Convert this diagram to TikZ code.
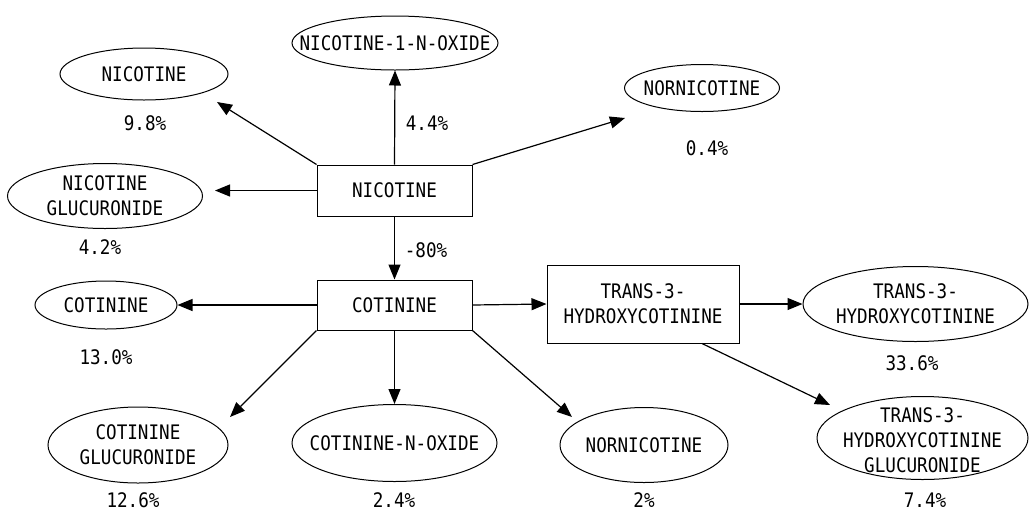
\documentclass[tikz,border=0pt]{standalone}
\usepackage{fontspec}
\setmainfont[FakeStretch=0.88]{DejaVu Sans Mono}
\usetikzlibrary{arrows.meta,shapes.geometric}
\begin{document}
\begin{tikzpicture}[x=1pt,y=-1pt,
  every node/.style={font=\fontsize{20}{25}\selectfont, align=center, inner sep=0pt},
  box/.style={draw, line width=1pt},
  ell/.style={draw, ellipse, line width=1pt},
  arr/.style={-{Triangle[length=15pt,width=12pt]}, line width=1.2pt}]
\useasboundingbox (0,0) rectangle (1030,515);
% boxes
\node[box, minimum width=155pt, minimum height=51pt] (nic) at (394.5,190.5) {NICOTINE};
\node[box, minimum width=155pt, minimum height=50pt] (cot) at (394.5,305) {COTININE};
\node[box, minimum width=192pt, minimum height=78pt] (trans) at (643,304) {TRANS-3-\\HYDROXYCOTININE};
% ellipses
\node[ell, minimum width=206pt, minimum height=54pt] (en1no) at (395,43) {};
\node (t_en1no) at (en1no) {NICOTINE-1-N-OXIDE};
\node[ell, minimum width=168pt, minimum height=52pt] (enic) at (144,74) {};
\node (t_enic) at (enic) {NICOTINE};
\node[ell, minimum width=155pt, minimum height=47pt] (enor1) at (702,88) {};
\node (t_enor1) at (enor1) {NORNICOTINE};
\node[ell, minimum width=195pt, minimum height=65pt] (engl) at (105,196) {};
\node (t_engl) at (engl) {NICOTINE\\GLUCURONIDE};
\node[ell, minimum width=142pt, minimum height=48pt] (ecot) at (106,305) {};
\node (t_ecot) at (ecot) {COTININE};
\node[ell, minimum width=225pt, minimum height=75pt] (etr) at (915.5,304) {};
\node (t_etr) at (etr) {TRANS-3-\\HYDROXYCOTININE};
\node[ell, minimum width=180pt, minimum height=76pt] (ecgl) at (138,445) {};
\node (t_ecgl) at (ecgl) {COTININE\\GLUCURONIDE};
\node[ell, minimum width=205pt, minimum height=77pt] (ecno) at (394.5,443) {};
\node (t_ecno) at (ecno) {COTININE-N-OXIDE};
\node[ell, minimum width=168pt, minimum height=75pt] (enor2) at (644,445) {};
\node (t_enor2) at (enor2) {NORNICOTINE};
\node[ell, minimum width=211pt, minimum height=83pt] (etgl) at (922.5,438) {};
\node (t_etgl) at (922.5,440) {TRANS-3-\\HYDROXYCOTININE\\GLUCURONIDE};
% percentages
\node (p1) at (145,123) {9.8\%};
\node (p2) at (427,123) {4.4\%};
\node (p3) at (707,148) {0.4\%};
\node (p4) at (100,247) {4.2\%};
\node (p5) at (426,250) {-80\%};
\node (p6) at (106,357) {13.0\%};
\node (p7) at (912,363) {33.6\%};
\node (p8) at (133,500) {12.6\%};
\node (p9) at (394,500) {2.4\%};
\node (p10) at (644,500) {2\%};
\node (p11) at (925,500) {7.4\%};
% arrow tips
\coordinate (c_nic) at (217,102);
\coordinate (c_nor1) at (625,118);
\coordinate (c_ngl) at (215,190.5);
\coordinate (c_cgl) at (230,417);
\coordinate (c_nor2) at (572,417);
\coordinate (c_tgl) at (830,405);
% connectors
\draw[arr] (nic.north) -- (en1no.south);
\draw[arr] (nic.north west) -- (c_nic);
\draw[arr] (nic.north east) -- (c_nor1);
\draw[arr] (nic.west) -- (c_ngl);
\draw[arr] (nic.south) -- (cot.north);
\draw[arr] (cot.west) -- (ecot.east);
\draw[arr] (cot.east) -- (trans.west);
\draw[arr] (cot.south) -- (ecno.north);
\draw[arr] (cot.south west) -- (c_cgl);
\draw[arr] (cot.south east) -- (c_nor2);
\draw[arr] (trans.east) -- (etr.west);
\draw[arr] ([xshift=59pt]trans.south) -- (c_tgl);
\end{tikzpicture}
\end{document}
